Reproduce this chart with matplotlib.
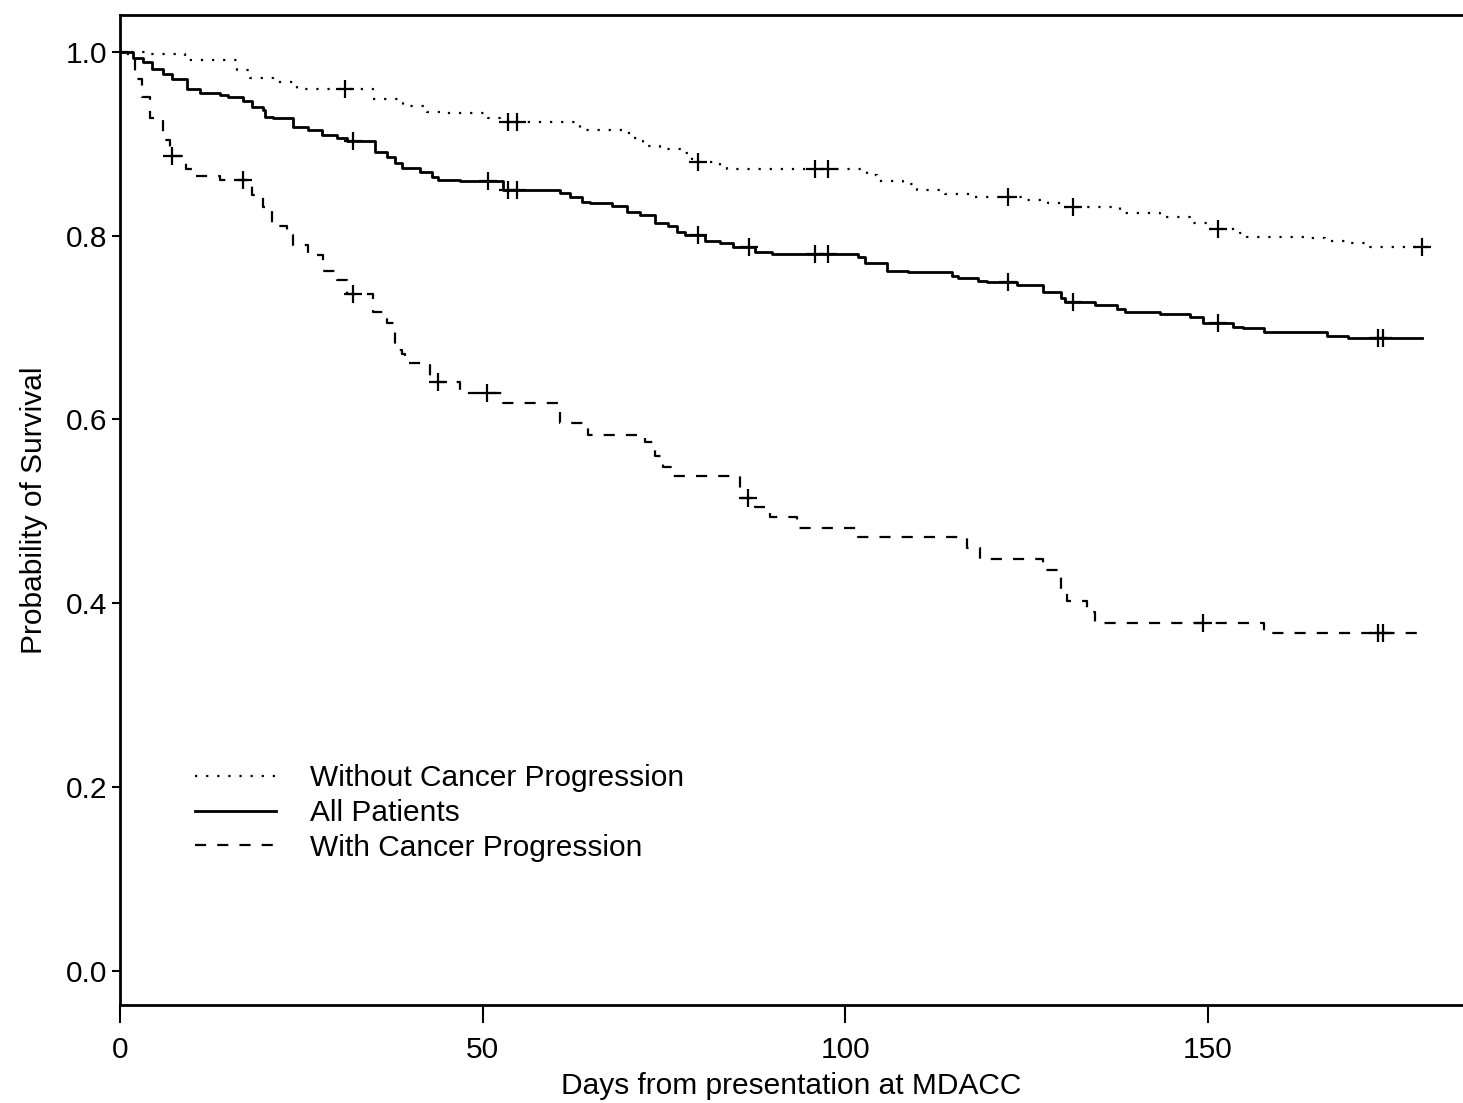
import matplotlib
matplotlib.use("Agg")
import matplotlib.pyplot as plt

# Kaplan-Meier step curves (day of drop, survival after drop)
all_times = [0, 1.8, 3.2, 4.4, 5.9, 7.2, 9.2, 11.0, 13.8, 14.9, 17.0, 18.2, 19.7, 20.0, 21.1,
             23.9, 25.9, 27.9, 29.9, 31.3, 35.2, 36.8, 37.9, 38.9, 41.4, 43.0, 43.9, 46.9,
             52.8, 60.7, 62.1, 63.7, 64.8, 67.9, 69.9, 71.7, 73.8, 75.6, 76.8, 77.9, 80.7,
             82.8, 84.6, 87.6, 89.9, 101.8, 102.8, 105.8, 108.7, 114.8, 115.6, 118.3, 119.6,
             123.7, 127.3, 129.7, 130.3, 134.5, 137.5, 138.6, 143.4, 147.6, 149.4, 153.5,
             154.8, 157.7, 166.5, 169.4, 179.6]
all_surv = [1.0, 0.993, 0.989, 0.981, 0.976, 0.970, 0.960, 0.955, 0.953, 0.951, 0.946, 0.940,
            0.937, 0.929, 0.928, 0.918, 0.915, 0.909, 0.906, 0.903, 0.891, 0.886, 0.879, 0.874,
            0.869, 0.864, 0.861, 0.859, 0.850, 0.846, 0.842, 0.837, 0.836, 0.832, 0.826, 0.822,
            0.814, 0.810, 0.804, 0.801, 0.794, 0.792, 0.788, 0.782, 0.780, 0.777, 0.770, 0.762,
            0.760, 0.756, 0.754, 0.751, 0.749, 0.746, 0.739, 0.732, 0.728, 0.725, 0.720, 0.717,
            0.715, 0.711, 0.705, 0.701, 0.700, 0.695, 0.691, 0.689, 0.689]
all_cens = [32.1, 50.8, 53.5, 54.8, 79.7, 86.8, 95.9, 97.7, 122.5, 131.4, 151.4, 173.5, 174.2]

noprog_times = [0, 4.1, 9.0, 16.1, 17.9, 21.1, 24.4, 34.9, 39.0, 42.3, 44.1, 50.8, 52.4, 63.4,
                69.9, 70.8, 72.0, 72.1, 74.5, 77.9, 78.9, 82.8, 83.7, 88.3, 103.0, 104.4, 108.0,
                109.9, 113.8, 117.9, 124.4, 128.0, 129.7, 137.9, 143.4, 147.6, 150.3, 154.5,
                155.4, 163.9, 166.2, 169.0, 172.4, 180.7]
noprog_surv = [1.0, 0.998, 0.991, 0.980, 0.972, 0.967, 0.959, 0.949, 0.941, 0.935, 0.933, 0.928,
               0.924, 0.915, 0.912, 0.906, 0.903, 0.897, 0.894, 0.890, 0.880, 0.876, 0.873, 0.872,
               0.866, 0.859, 0.856, 0.850, 0.845, 0.842, 0.839, 0.836, 0.831, 0.825, 0.820, 0.814,
               0.807, 0.803, 0.799, 0.797, 0.794, 0.792, 0.788, 0.788]
noprog_cens = [31.0, 53.5, 54.8, 79.7, 95.9, 97.7, 122.5, 131.4, 151.4, 179.6]

prog_times = [0, 1.1, 2.1, 3.0, 4.1, 5.9, 6.9, 9.1, 10.1, 13.8, 18.2, 19.7, 21.0, 23.0, 23.9,
              25.9, 28.0, 29.9, 31.3, 34.9, 36.8, 37.9, 38.9, 39.3, 42.8, 46.9, 52.8, 60.7, 64.6,
              72.4, 73.8, 74.9, 76.3, 85.5, 87.6, 89.7, 93.4, 101.8, 116.8, 118.6, 127.3, 129.7,
              130.6, 133.4, 134.5, 157.7, 179.0]
prog_surv = [1.0, 0.991, 0.970, 0.951, 0.928, 0.904, 0.887, 0.872, 0.865, 0.861, 0.844, 0.831,
             0.810, 0.801, 0.790, 0.779, 0.761, 0.752, 0.736, 0.717, 0.705, 0.676, 0.671, 0.661,
             0.641, 0.629, 0.618, 0.596, 0.583, 0.575, 0.560, 0.548, 0.539, 0.515, 0.505, 0.494,
             0.482, 0.472, 0.460, 0.448, 0.436, 0.415, 0.402, 0.391, 0.379, 0.368, 0.368]
prog_cens = [7.2, 17.0, 32.1, 43.9, 50.6, 86.6, 149.4, 173.5, 174.2]

labels = ["Without Cancer Progression", "All Patients", "With Cancer Progression"]


def surv_at(times, surv, t):
    val = surv[0]
    for ti, si in zip(times, surv):
        if ti <= t:
            val = si
    return val


plt.rcParams["font.family"] = ["Liberation Sans", "DejaVu Sans"]
FS = 21.5

fig = plt.figure(figsize=(14.63, 11.03), dpi=100)
ax = fig.add_axes([120 / 1463, 1 - 1005 / 1103, 1 - 120 / 1463, (1005 - 15) / 1103])

series = [
    (noprog_times, noprog_surv, noprog_cens, (0, (1, 4)), 1.6),
    (all_times, all_surv, all_cens, "-", 2.0),
    (prog_times, prog_surv, prog_cens, (0, (5, 5)), 1.6),
]
for (t, s, c, ls, lw), lab in zip(series, labels):
    ax.step(t, s, where="post", color="black", linestyle=ls, linewidth=lw, label=lab)
    ax.plot(c, [surv_at(t, s, x) for x in c], linestyle="none", marker="+",
            color="black", markersize=13, markeredgewidth=1.6)

ax.set_xlim(0, 185.2)
ax.set_ylim(-0.037, 1.04)
ax.set_xticks([0, 50, 100, 150])
ax.set_yticks([0.0, 0.2, 0.4, 0.6, 0.8, 1.0])
ax.set_yticklabels(["0.0", "0.2", "0.4", "0.6", "0.8", "1.0"])
ax.tick_params(axis="x", direction="out", length=13, width=1.5, labelsize=FS, pad=9)
ax.tick_params(axis="y", direction="out", length=6, width=1.5, labelsize=FS, pad=3)
for side in ("left", "top", "bottom"):
    ax.spines[side].set_linewidth(2)
ax.spines["right"].set_visible(False)

ax.set_xlabel("Days from presentation at MDACC", fontsize=FS, labelpad=6)
ax.set_ylabel("Probability of Survival", fontsize=FS, labelpad=13)

ax.legend(loc="upper left", bbox_to_anchor=(0.047, 0.255), frameon=False, fontsize=FS,
          handlelength=2.7, handletextpad=1.15, labelspacing=0.22, borderaxespad=0)

fig.savefig("out.png", dpi=100)
